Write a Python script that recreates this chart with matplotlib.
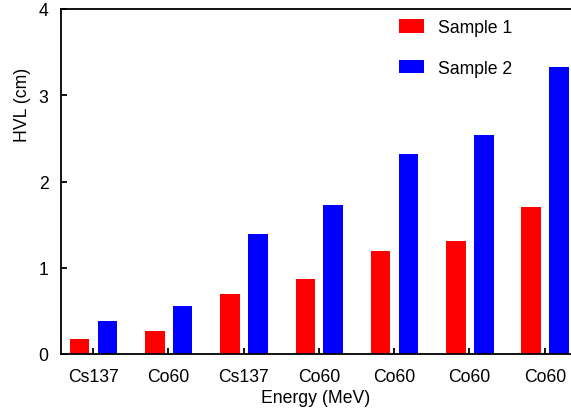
import matplotlib
matplotlib.use("Agg")
import matplotlib.pyplot as plt
import numpy as np

categories = ["Cs137", "Co60", "Cs137", "Co60", "Co60", "Co60", "Co60"]
sample1 = [0.17, 0.27, 0.69, 0.87, 1.19, 1.31, 1.71]
sample2 = [0.38, 0.56, 1.39, 1.73, 2.32, 2.54, 3.33]

plt.rcParams['font.family'] = ['Liberation Sans', 'DejaVu Sans']

W, H = 571, 414
fig = plt.figure(figsize=(W/100, H/100), dpi=100)
left, right, top, bottom = 61, 571, 10, 355
ax = fig.add_axes([left/W, 1 - bottom/H, (right-left)/W, (bottom-top)/H])

x = np.arange(len(categories))
bw = 0.26
ax.bar(x - 0.18, sample1, bw, color='#ff0000', label='Sample 1')
ax.bar(x + 0.19, sample2, bw, color='#0000ff', label='Sample 2')

fs = 12.7
ax.set_xlim(-0.425, 6.348)
ax.set_ylim(0, 4)
ax.set_xticks(x)
ax.set_xticklabels(categories)
ax.set_yticks([0, 1, 2, 3, 4])
for s in ['left', 'bottom', 'top']:
    ax.spines[s].set_linewidth(1.3)
ax.spines['right'].set_visible(False)
ax.tick_params(direction='in', length=4.5, width=1.3, labelsize=fs, pad=9)
ax.tick_params(axis='x', pad=10)
ax.set_xlabel('Energy (MeV)', fontsize=fs, labelpad=3)
ax.set_ylabel('HVL (cm)', fontsize=fs)
ax.yaxis.set_label_coords((31 - left) / (right - left), (bottom - 105) / (bottom - top))

leg = ax.legend(loc='upper left', bbox_to_anchor=(399/W, 1 - 20/H), bbox_transform=fig.transFigure,
                frameon=False, fontsize=fs, borderpad=0, borderaxespad=0,
                handlelength=1.4, handleheight=0.8, handletextpad=0.8, labelspacing=1.35)

fig.savefig('out.png', dpi=100)
